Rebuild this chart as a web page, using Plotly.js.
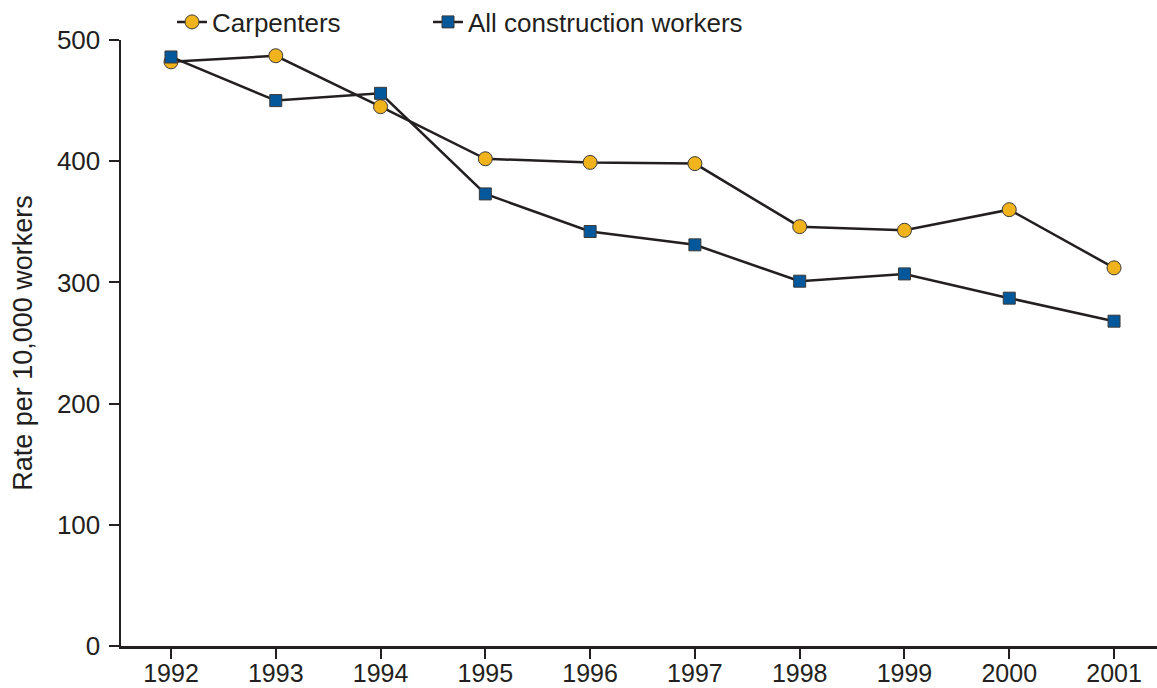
<!DOCTYPE html>
<html>
<head>
<meta charset="utf-8">
<script src="https://cdn.plot.ly/plotly-3.0.1.min.js"></script>
<style>html,body{margin:0;padding:0;background:#fff;}#chart{width:1157px;height:688px;}</style>
</head>
<body>
<div id="chart"></div>
<script>
const years = [1992, 1993, 1994, 1995, 1996, 1997, 1998, 1999, 2000, 2001];
const carpenters = [482, 487, 445, 402, 399, 398, 346, 343, 360, 312];
const allConstruction = [486, 450, 456, 373, 342, 331, 301, 307, 287, 268];
const yTicks = [0, 100, 200, 300, 400, 500];

const ink = '#231f20';
const font = {family: 'Liberation Sans, Arial, sans-serif', color: ink};
const f = (s) => Object.assign({size: s}, font);

const traces = [
  {
    x: years, y: carpenters, name: 'Carpenters', mode: 'lines+markers', legend: 'legend',
    line: {color: ink, width: 2.5},
    marker: {symbol: 'circle', size: 14, color: '#f0b31c', line: {color: '#3a3a3a', width: 1}}
  },
  {
    x: years, y: allConstruction, name: 'All construction workers', mode: 'lines+markers', legend: 'legend2',
    line: {color: ink, width: 2.5},
    marker: {symbol: 'square', size: 12, color: '#03579b', line: {color: '#3a3a3a', width: 1}}
  }
];

const legendBase = {
  orientation: 'h', xref: 'container', yref: 'container',
  y: 1 - 22 / 688, xanchor: 'left', yanchor: 'middle',
  font: f(26), bgcolor: 'rgba(0,0,0,0)'
};

const layout = {
  width: 1157, height: 688,
  margin: {l: 121, r: 0, t: 40, b: 42, pad: 0, autoexpand: false},
  paper_bgcolor: '#fff', plot_bgcolor: '#fff',
  font: f(26),
  showlegend: true,
  legend: Object.assign({x: 172 / 1157}, legendBase),
  legend2: Object.assign({x: 428 / 1157}, legendBase),
  xaxis: {
    range: [1991.523, 2001.41],
    tickvals: years, ticktext: years.map(String),
    showline: true, linecolor: ink, linewidth: 2.5,
    ticks: 'outside', ticklen: 10, tickwidth: 2, tickcolor: ink,
    showgrid: false, zeroline: false,
    tickfont: f(25), ticklabelstandoff: -7
  },
  yaxis: {
    range: [0, 500],
    tickvals: yTicks,
    showline: true, linecolor: ink, linewidth: 2.5,
    ticks: 'outside', ticklen: 10, tickwidth: 2, tickcolor: ink,
    showgrid: false, zeroline: false,
    tickfont: f(26), ticklabelstandoff: 3,
    title: {text: 'Rate per 10,000 workers', font: f(27), standoff: 17}
  }
};

Plotly.newPlot('chart', traces, layout, {displayModeBar: false, staticPlot: true});
</script>
</body>
</html>
